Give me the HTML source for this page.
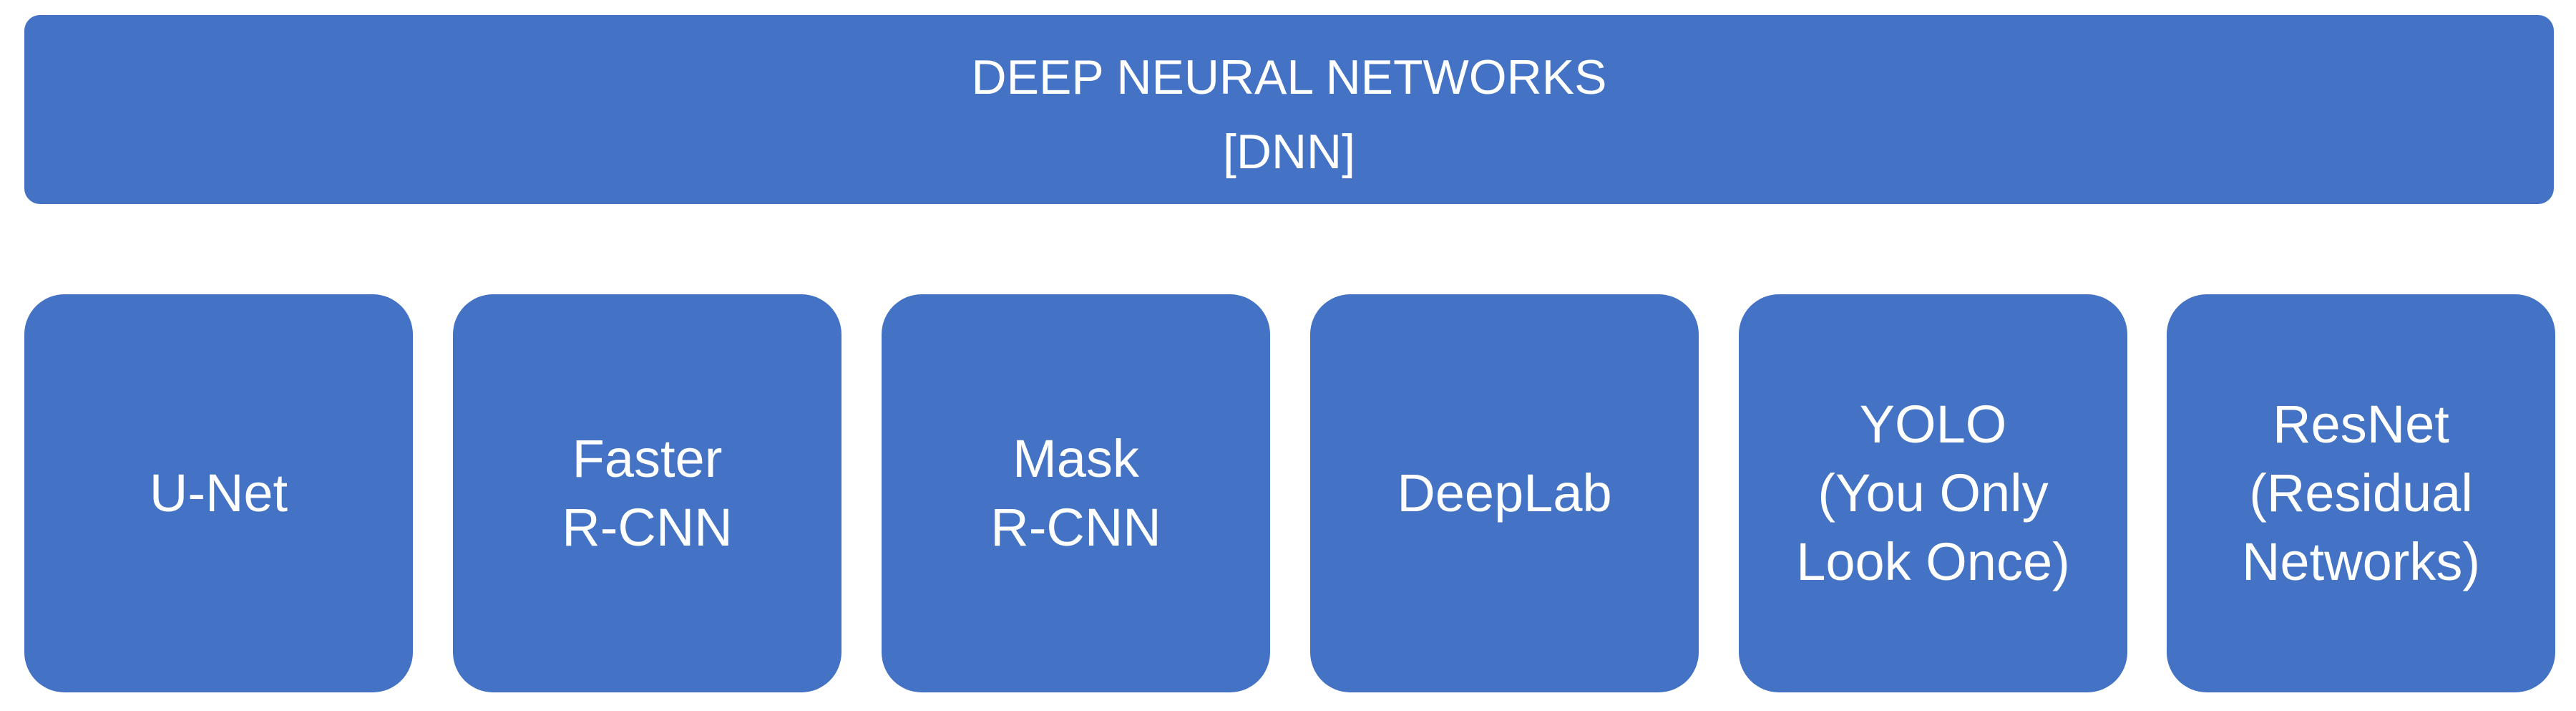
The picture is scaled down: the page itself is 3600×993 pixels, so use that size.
<!DOCTYPE html>
<html><head><meta charset="utf-8"><style>
html,body{margin:0;padding:0;background:#fff;}
body{width:3600px;height:993px;position:relative;overflow:hidden;font-family:"Liberation Sans",sans-serif;color:#fff;}
.b{position:absolute;background:#4472C4;display:flex;align-items:center;justify-content:center;text-align:center;}
.top{left:34px;top:21px;width:3535px;height:264px;border-radius:22px;font-size:68px;line-height:104px;box-sizing:border-box;padding-top:14px;}
.s{top:411px;height:556px;width:543px;border-radius:56px;font-size:74px;line-height:96px;}
</style></head><body>
<div class="b top"><div>DEEP NEURAL NETWORKS<br>[DNN]</div></div>
<div class="b s" style="left:34px"><div>U-Net</div></div>
<div class="b s" style="left:633px"><div>Faster<br>R-CNN</div></div>
<div class="b s" style="left:1232px"><div>Mask<br>R-CNN</div></div>
<div class="b s" style="left:1831px"><div>DeepLab</div></div>
<div class="b s" style="left:2430px"><div>YOLO<br>(You Only<br>Look Once)</div></div>
<div class="b s" style="left:3028px"><div>ResNet<br>(Residual<br>Networks)</div></div>
</body></html>
